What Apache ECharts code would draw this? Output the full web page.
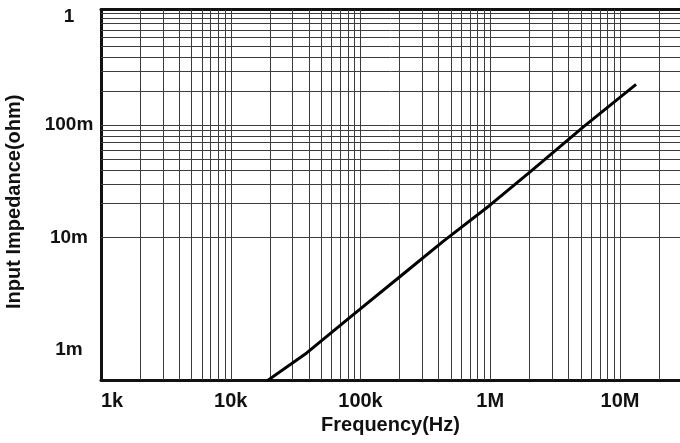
<!DOCTYPE html>
<html>
<head>
<meta charset="utf-8">
<script src="https://cdn.jsdelivr.net/npm/echarts@6/dist/echarts.min.js"></script>
<style>
html,body{margin:0;padding:0;background:#fff;}
#chart{width:680px;height:443px;}
</style>
</head>
<body>
<div id="chart"></div>
<script>
// Data (frequency in Hz, impedance in ohm)
var freqHz = [19000, 38500, 88000, 202000, 436000, 1000000, 2040000, 5250000, 13300000];
var impedanceOhm = [0.00053, 0.00094, 0.00206, 0.0045, 0.0093, 0.0195, 0.0386, 0.097, 0.231];

// Axis ticks and labels
var xTicks = [1e3, 1e4, 1e5, 1e6, 1e7];
var xTickLabels = ['1k', '10k', '100k', '1M', '10M'];
var yTicks = [1e-3, 1e-2, 1e-1, 1];
var yTickLabels = ['1m', '10m', '100m', '{top|1}'];
var xMin = 1000, xMax = 2.9e7;
var yMin = 0.00054, yMax = 1.07;

// grid-line values (1..9 per decade) within the axis ranges
function decadeLines(lo, hi) {
  var out = [];
  for (var e = -5; e <= 8; e++) {
    for (var m = 1; m <= 9; m++) {
      var v = m * Math.pow(10, e);
      if (v >= lo * 1.0001 && v <= hi) out.push(+v.toPrecision(6));
    }
  }
  return out;
}
var xGrid = decadeLines(xMin, xMax);
var yGrid = decadeLines(yMin, yMax);

function labelFor(ticks, labels) {
  return function (v) {
    for (var i = 0; i < ticks.length; i++) {
      if (Math.abs(Math.log10(v) - Math.log10(ticks[i])) < 1e-6) return labels[i];
    }
    return '';
  };
}

var gridLineStyle = {type: 'solid', color: '#3c3c3c', width: 1};
var markData = xGrid.map(function (v) { return {xAxis: v}; })
  .concat(yGrid.map(function (v) { return {yAxis: v}; }));

var chart = echarts.init(document.getElementById('chart'), null, {renderer: 'canvas'});
chart.setOption({
  animation: false,
  backgroundColor: '#fff',
  textStyle: {fontFamily: 'Liberation Sans, Arial, sans-serif'},
  grid: {left: 101, right: 0, top: 9.5, bottom: 63, containLabel: false, outerBoundsMode: 'none'},
  xAxis: [{
    type: 'log', min: xMin, max: xMax, logBase: 10,
    position: 'bottom',
    name: 'Frequency(Hz)', nameLocation: 'middle', nameGap: 28,
    nameTextStyle: {fontSize: 20, fontWeight: 'bold', color: '#111', fontFamily: 'Liberation Sans, Arial'},
    axisLine: {show: true, onZero: false, lineStyle: {color: '#111', width: 3}},
    axisTick: {show: false}, minorTick: {show: false},
    splitLine: {show: false}, minorSplitLine: {show: false},
    axisLabel: {
      show: true, margin: 11, fontSize: 20, fontWeight: 'bold', color: '#111',
      formatter: labelFor(xTicks, xTickLabels), alignMinLabel: 'left',
      showMinLabel: true, showMaxLabel: true, hideOverlap: false
    }
  }, {
    type: 'log', min: xMin, max: xMax, logBase: 10, position: 'top',
    axisLine: {show: true, onZero: false, lineStyle: {color: '#111', width: 3}},
    axisTick: {show: false}, axisLabel: {show: false}, splitLine: {show: false}
  }],
  yAxis: {
    type: 'log', min: yMin, max: yMax, logBase: 10,
    name: 'Input Impedance(ohm)', nameLocation: 'middle', nameGap: 77, nameRotate: 90,
    nameTextStyle: {fontSize: 20, fontWeight: 'bold', color: '#111', padding: [0, 14, 0, 0], fontFamily: 'Liberation Sans, Arial'},
    axisLine: {show: true, onZero: false, lineStyle: {color: '#111', width: 3}},
    axisTick: {show: false}, minorTick: {show: false},
    splitLine: {show: false}, minorSplitLine: {show: false},
    axisLabel: {
      show: true, margin: 32, align: 'center', fontSize: 19, fontWeight: 'bold', color: '#111',
      formatter: labelFor(yTicks, yTickLabels), hideOverlap: false,
      rich: {top: {fontSize: 19, fontWeight: 'bold', color: '#111', padding: [8, 0, 0, 0]}}
    }
  },
  series: [{
    type: 'line', xAxisIndex: 0, z: 1, silent: true,
    data: freqHz.map(function (f, i) { return [f, impedanceOhm[i]]; }),
    showSymbol: false, symbol: 'none',
    lineStyle: {opacity: 0},
    markLine: {
      silent: true, symbol: ['none', 'none'], animation: false,
      label: {show: false}, lineStyle: gridLineStyle,
      emphasis: {disabled: true},
      data: markData
    }
  }, {
    type: 'line', xAxisIndex: 0, z: 5,
    data: freqHz.map(function (f, i) { return [f, impedanceOhm[i]]; }),
    showSymbol: false, symbol: 'none', smooth: false,
    lineStyle: {color: '#000', width: 3}
  }]
});
</script>
</body>
</html>
